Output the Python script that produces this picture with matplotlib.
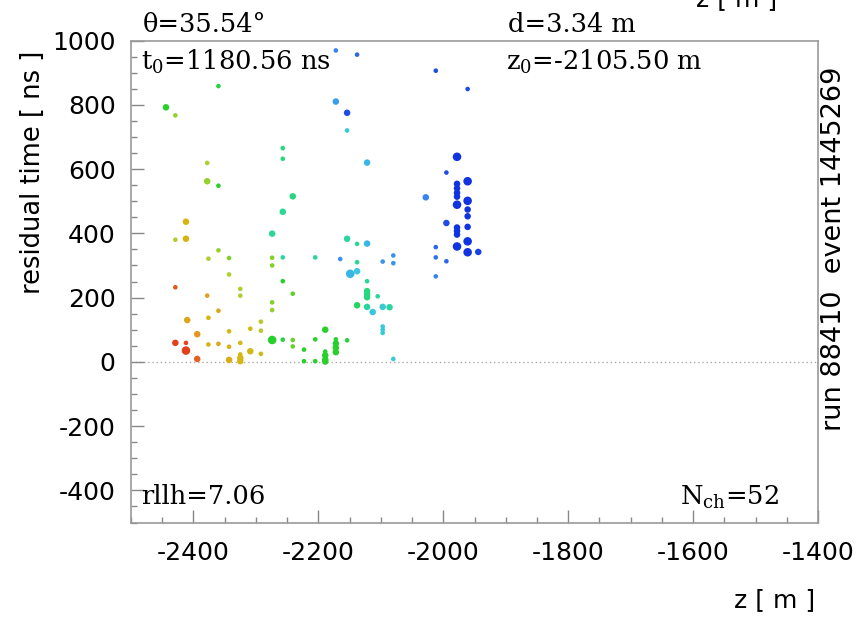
import numpy as np
import matplotlib as mpl
mpl.rcParams['mathtext.fontset'] = 'dejavuserif'
mpl.rcParams['axes.unicode_minus'] = False
import matplotlib.pyplot as plt
from matplotlib.colors import LinearSegmentedColormap
from matplotlib.ticker import MultipleLocator

# hits: z position [m], residual time [ns], colour level (0 early/red .. 1 late/blue), charge class
z_hit = [
    -2444, -2429, -2429, -2429, -2429,
    -2412, -2412, -2410, -2412, -2412,
    -2394, -2394,
    -2378, -2378, -2376, -2378, -2376, -2376,
    -2360, -2360, -2360, -2360, -2360,
    -2343, -2343, -2343, -2343, -2343,
    -2325, -2325, -2325, -2325, -2325, -2325,
    -2309, -2309,
    -2292, -2292, -2292,
    -2274, -2274, -2274, -2274, -2274, -2274,
    -2257, -2257, -2257, -2257, -2257, -2257,
    -2241, -2241, -2241, -2241,
    -2223, -2223,
    -2205, -2205, -2205,
    -2189, -2189, -2189, -2189, -2189,
    -2172, -2172, -2172, -2172, -2172, -2172,
    -2165,
    -2154, -2154, -2154, -2154,
    -2149,
    -2138, -2138, -2138, -2138, -2138,
    -2122, -2122, -2122, -2122, -2122, -2122, -2122,
    -2113, -2105,
    -2097, -2097, -2097, -2097, -2097,
    -2086,
    -2080, -2080, -2080,
    -2028,
    -2012, -2012, -2012, -2012,
    -1995, -1995, -1995,
    -1978, -1978, -1978, -1978, -1978, -1978, -1978, -1978, -1978, -1978,
    -1961, -1961, -1961, -1961, -1961, -1961, -1961, -1961,
    -1944,
]
t_res = [
    792, 767, 380, 232, 59,
    436, 383, 130, 59, 35,
    86, 9,
    619, 562, 321, 206, 137, 54,
    858, 548, 347, 159, 56,
    323, 272, 95, 47, 6,
    227, 206, 59, 23, 12, 2,
    103, 33,
    125, 97, 25,
    399, 324, 300, 185, 161, 68,
    665, 632, 467, 325, 251, 69,
    515, 212, 68, 48,
    38, 2,
    325, 70, 2,
    100, 32, 20, 7, 1,
    969, 810, 70, 57, 44, 30,
    320,
    775, 720, 383, 67,
    274,
    956, 367, 310, 282, 176,
    620, 368, 251, 220, 211, 201, 171,
    155, 204,
    312, 171, 110, 100, 90,
    170,
    331, 307, 9,
    512,
    906, 357, 325, 266,
    589, 432, 313,
    638, 554, 540, 526, 514, 489, 418, 407, 396, 359,
    849, 562, 501, 474, 453, 420, 375, 341,
    342,
]
hit_col = [
    0.50, 0.40, 0.37, 0.05, 0.02,
    0.25, 0.25, 0.20, 0.03, 0.02,
    0.15, 0.06,
    0.38, 0.40, 0.38, 0.18, 0.25, 0.24,
    0.52, 0.50, 0.40, 0.20, 0.20,
    0.42, 0.38, 0.26, 0.24, 0.22,
    0.38, 0.37, 0.27, 0.26, 0.26, 0.26,
    0.27, 0.27,
    0.34, 0.34, 0.28,
    0.60, 0.42, 0.42, 0.42, 0.40, 0.50,
    0.58, 0.58, 0.60, 0.62, 0.50, 0.52,
    0.58, 0.45, 0.44, 0.44,
    0.50, 0.50,
    0.62, 0.50, 0.50,
    0.50, 0.50, 0.50, 0.50, 0.50,
    0.85, 0.80, 0.50, 0.50, 0.50, 0.50,
    0.82,
    0.95, 0.70, 0.62, 0.52,
    0.75,
    0.90, 0.60, 0.60, 0.72, 0.55,
    0.75, 0.75, 0.60, 0.58, 0.58, 0.58, 0.62,
    0.72, 0.62,
    0.82, 0.70, 0.70, 0.70, 0.70,
    0.62,
    0.82, 0.82, 0.70,
    0.85,
    0.95, 0.90, 0.88, 0.85,
    0.95, 0.95, 0.90,
    1.0, 1.0, 1.0, 1.0, 1.0, 1.0, 1.0, 1.0, 1.0, 1.0,
    0.95, 1.0, 1.0, 1.0, 1.0, 1.0, 1.0, 1.0,
    0.97,
]
hit_q = [
    2, 1, 1, 1, 2,
    2, 2, 2, 1, 3,
    2, 2,
    1, 2, 1, 1, 1, 1,
    1, 1, 1, 1, 1,
    1, 1, 1, 1, 2,
    1, 1, 1, 1, 2, 2,
    1, 2,
    1, 1, 1,
    2, 1, 1, 1, 1, 3,
    1, 1, 2, 1, 1, 1,
    2, 1, 1, 1,
    1, 1,
    1, 1, 1,
    2, 1, 2, 2, 2,
    1, 2, 1, 2, 2, 2,
    1,
    2, 1, 2, 1,
    3,
    1, 1, 1, 2, 2,
    2, 2, 1, 2, 2, 2, 2,
    2, 1,
    1, 2, 1, 1, 1,
    2,
    1, 1, 1,
    2,
    1, 1, 1, 1,
    1, 2, 1,
    3, 2, 2, 2, 2, 3, 2, 2, 2, 3,
    1, 3, 3, 2, 2, 2, 3, 3,
    2,
]

# fit / event info
theta = 35.54
d_fit = 3.34
t0 = 1180.56
z0 = -2105.50
rllh = 7.06
nch = 52
run_id = 88410
event_id = 1445269

cmap = LinearSegmentedColormap.from_list('hits', [
    (0.00, '#e03418'), (0.12, '#e88c28'), (0.25, '#d8b410'),
    (0.38, '#acd030'), (0.50, '#28d028'), (0.60, '#28d894'),
    (0.72, '#38c8e0'), (0.85, '#3884f0'), (1.00, '#1034e0')])
qsize = {1: 11, 2: 22, 3: 38}

W, H = 859, 619
fig = plt.figure(figsize=(W / 100, H / 100), dpi=100)
ax = fig.add_axes([131 / W, 1 - 522.5 / H, (818 - 131) / W, (522.5 - 40.5) / H])

ax.axhline(0, color='#aaaaaa', lw=1, ls=(0, (1, 2)), zorder=1)
ax.scatter(z_hit, t_res, c=[cmap(v) for v in hit_col],
           s=[qsize[q] for q in hit_q], marker='o', linewidths=0, zorder=3)

ax.set_xlim(-2500, -1400)
ax.set_ylim(-500, 1000)
ax.xaxis.set_major_locator(MultipleLocator(200))
ax.xaxis.set_minor_locator(MultipleLocator(50))
ax.yaxis.set_major_locator(MultipleLocator(200))
ax.yaxis.set_minor_locator(MultipleLocator(50))
ax.tick_params(which='both', direction='in', colors='#888888', labelcolor='black',
               labelsize=18, right=False, top=False)
ax.tick_params(which='major', length=9.5, width=1)
ax.tick_params(which='minor', length=4.5, width=1)
ax.tick_params(axis='y', pad=11)
ax.tick_params(axis='x', pad=13)
for sp in ax.spines.values():
    sp.set_color('#999999')
    sp.set_linewidth(1.2)

# labels
fig.text(33 / W, 1 - 172 / H, 'residual time [ ns ]', rotation=90,
         ha='center', va='center', fontsize=18.5)
fig.text(815 / W, 1 - 600 / H, 'z [ m ]', ha='right', va='center', fontsize=18)
fig.text(777 / W, 1 - 6 / H, 'z [ m ]', ha='right', va='baseline', fontsize=18)
fig.text(834 / W, 1 - 249 / H, 'run %d  event %d' % (run_id, event_id),
         rotation=90, ha='center', va='center', fontsize=19.5)

sf = dict(family='DejaVu Serif', fontsize=18.5)
fig.text(143 / W, 1 - 24 / H, '\u03b8=%.2f\u00b0' % theta, va='center', ha='left', **sf)
fig.text(508 / W, 1 - 24 / H, 'd=%.2f m' % d_fit, va='center', ha='left', **sf)
fig.text(141 / W, 1 - 62 / H, r'$\mathrm{t_0}$=%.2f ns' % t0, va='center', ha='left', **sf)
fig.text(506 / W, 1 - 62 / H, r'$\mathrm{z_0}$=%.2f m' % z0, va='center', ha='left', **sf)
fig.text(141 / W, 1 - 497 / H, 'rllh=%.2f' % rllh, va='center', ha='left', **sf)
fig.text(680 / W, 1 - 497 / H, r'$\mathrm{N_{ch}}$=%d' % nch, va='center', ha='left', **sf)

fig.savefig('out.png', dpi=100)
plt.close()
